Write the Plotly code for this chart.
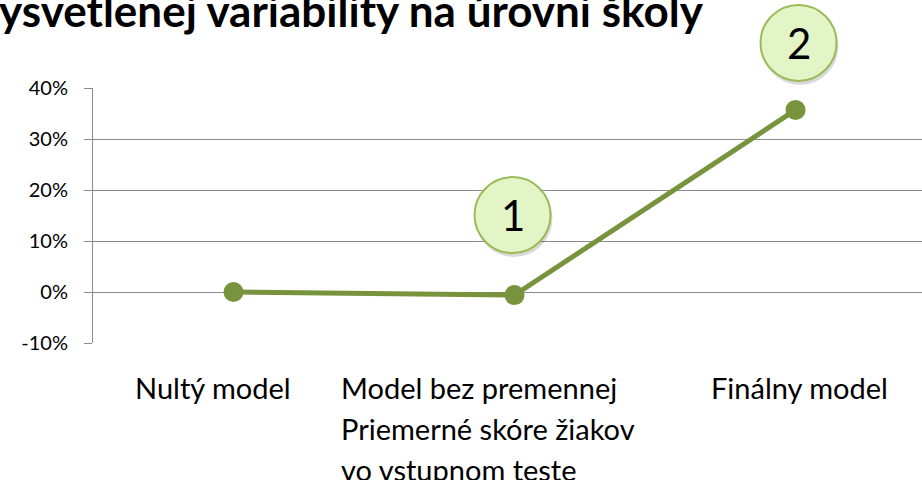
import plotly.graph_objects as go

# ---- data ----
categories = ["Nultý model",
              "Model bez premennej\nPriemerné skóre žiakov\nvo vstupnom teste",
              "Finálny model"]
values = [0.0, -0.6, 35.7]          # % explained variability
y_ticks = [-10, 0, 10, 20, 30, 40]
y_tick_labels = ["-10%", "0%", "10%", "20%", "30%", "40%"]
callout_labels = ["1", "2"]
callout_points = [1, 2]              # index of point each callout belongs to
title_text = "ysvetlenej variability na úrovni školy"

# ---- style ----
GREEN = "#77933c"
GRID = "#8a8a8a"
FONT = "Lato"
XR = [-0.5, 2.45]
YR = [-10, 40]

fig = go.Figure()
fig.add_trace(go.Scatter(
    x=categories, y=values, mode="lines+markers",
    line=dict(color=GREEN, width=5),
    marker=dict(color=GREEN, size=20),
    cliponaxis=False, showlegend=False, hoverinfo="skip"))

fig.update_layout(
    width=922, height=480,
    margin=dict(l=93, r=0, t=88, b=137),
    paper_bgcolor="white", plot_bgcolor="white",
    font=dict(family=FONT, color="black"),
    xaxis=dict(type="category", range=XR, showticklabels=False,
               showgrid=False, zeroline=False, showline=False, ticks=""),
    yaxis=dict(range=YR, tickvals=y_ticks, ticktext=y_tick_labels,
               showgrid=True, gridcolor=GRID, gridwidth=1,
               zeroline=False, showline=True, linecolor=GRID, linewidth=1,
               ticks="outside", ticklen=8, tickcolor=GRID,
               tickfont=dict(size=20, family=FONT, color="black"),
               ticklabelstandoff=12),
)

# title (clipped at the top/left as in the original)
fig.add_annotation(text="<b>" + title_text + "</b>", xref="paper", yref="paper",
                   x=-96 / 829, y=1, xanchor="left", yanchor="bottom",
                   yshift=50, showarrow=False,
                   font=dict(size=44, family=FONT, color="black"))

# category labels (left aligned multi-line)
label_xshift = [-101, -176, -87]
for i, cat in enumerate(categories):
    for j, line in enumerate(cat.split("\n")):
        fig.add_annotation(text=line, x=cat, xref="x", yref="paper", y=0,
                           xanchor="left", yanchor="middle",
                           xshift=label_xshift[i], yshift=-44 - 41 * j,
                           showarrow=False,
                           font=dict(size=29, family=FONT, color="black"))

# callout circles
offsets = [(-2, 80), (3, 67)]
R = 38
for lab, idx, (dx, dy) in zip(callout_labels, callout_points, offsets):
    px = (idx - XR[0]) / (XR[1] - XR[0])
    py = (values[idx] - YR[0]) / (YR[1] - YR[0])
    # shadow
    fig.add_shape(type="circle", xref="paper", yref="paper",
                  xsizemode="pixel", ysizemode="pixel", xanchor=px, yanchor=py,
                  x0=dx - R + 1, x1=dx + R + 2, y0=dy - R - 4, y1=dy + R - 2,
                  fillcolor="rgba(0,0,0,0.15)", line=dict(width=0), layer="above")
    fig.add_shape(type="circle", xref="paper", yref="paper",
                  xsizemode="pixel", ysizemode="pixel", xanchor=px, yanchor=py,
                  x0=dx - R, x1=dx + R, y0=dy - R, y1=dy + R,
                  fillcolor="#e3f5c6", line=dict(color="#9bbb59", width=2),
                  layer="above")
    fig.add_annotation(text=lab, x=categories[idx], y=values[idx], xref="x", yref="y",
                       xshift=dx, yshift=dy, showarrow=False,
                       xanchor="center", yanchor="middle",
                       font=dict(size=42, family=FONT, color="black"))

fig.write_html("out.html", config={"displayModeBar": False},
               post_script="document.body.style.margin='0';document.body.style.overflow='hidden';")
